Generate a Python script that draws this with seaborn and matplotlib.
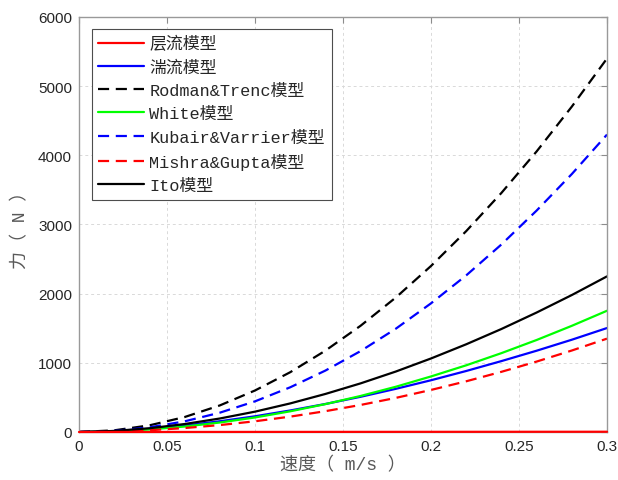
import matplotlib
matplotlib.use("Agg")
import matplotlib.pyplot as plt
import seaborn as sns
import pandas as pd

speed = [0.00, 0.02, 0.04, 0.06, 0.08, 0.10, 0.12, 0.14, 0.16, 0.18, 0.20, 0.22, 0.24, 0.26, 0.28, 0.30]
laminar = [0, 0.3, 0.5, 0.8, 1.0, 1.3, 1.5, 1.8, 2.0, 2.3, 2.5, 2.8, 3.0, 3.3, 3.5, 3.8]
turbulent = [0, 14, 47, 94, 155, 227, 311, 405, 509, 624, 748, 882, 1025, 1175, 1334, 1503]
rodman = [0, 24, 96, 216, 384, 600, 864, 1176, 1536, 1944, 2400, 2904, 3456, 4056, 4704, 5400]
white = [0, 9, 36, 79, 137, 210, 299, 403, 521, 654, 803, 964, 1140, 1330, 1535, 1753]
kubair = [0, 16, 67, 154, 279, 443, 646, 888, 1170, 1493, 1860, 2264, 2711, 3201, 3729, 4300]
mishra = [0, 6, 25, 57, 100, 155, 222, 301, 391, 493, 608, 733, 870, 1018, 1178, 1350]
ito = [0, 15, 54, 115, 195, 294, 413, 550, 703, 874, 1063, 1268, 1489, 1727, 1980, 2250]

labels = ["层流模型", "湍流模型", "Rodman&Trenc模型", "White模型",
          "Kubair&Varrier模型", "Mishra&Gupta模型", "Ito模型"]
series = [laminar, turbulent, rodman, white, kubair, mishra, ito]
colors = ["#ff0000", "#0000ff", "#000000", "#00ff00", "#0000ff", "#ff0000", "#000000"]
styles = ["-", "-", (0, (5, 3)), "-", (0, (5, 3)), (0, (5, 3)), "-"]

sns.set_style("white")
plt.rcParams["font.family"] = ["Liberation Sans", "Noto Sans CJK SC"]
mixfam = ["Liberation Mono", "Noto Sans CJK SC"]

fig = plt.figure(figsize=(6.18, 4.81), dpi=100)
ax = fig.add_axes([0.1278, 0.0998, 0.8544, 0.8628])

for lab, vals, col, ls in zip(labels, series, colors, styles):
    df = pd.DataFrame({"v": speed, "F": vals})
    is_lam = lab == "层流模型"
    sns.lineplot(data=df, x="v", y="F", color=col, linestyle=ls, linewidth=1.6,
                 label=lab, ax=ax, clip_on=not is_lam, zorder=3 if is_lam else 2)

ax.set_xlim(0, 0.3)
ax.set_ylim(0, 6000)
ax.set_xticks([0, 0.05, 0.1, 0.15, 0.2, 0.25, 0.3])
ax.set_xticklabels(["0", "0.05", "0.1", "0.15", "0.2", "0.25", "0.3"])
ax.set_yticks([0, 1000, 2000, 3000, 4000, 5000, 6000])
ax.tick_params(direction="in", top=True, right=True, length=4, width=0.8,
               labelsize=11, colors="0.55", labelcolor="0.15", pad=5)
ax.grid(True, linestyle=(0, (3, 3)), color="0.85", linewidth=0.7)
for sp in ax.spines.values():
    sp.set_color("0.6")
    sp.set_linewidth(1.0)

ax.set_xlabel("速度（ m/s ）", fontsize=13, color="0.35", family=mixfam, labelpad=2)
ax.set_ylabel("力（ N ）", fontsize=13, color="0.35", family=mixfam, labelpad=6)

leg = ax.legend(loc="upper left", bbox_to_anchor=(0.024, 0.972),
                prop={"family": mixfam, "size": 12.2}, frameon=True, fancybox=False,
                edgecolor="0.3", framealpha=1, handlelength=2.7, handletextpad=0.3,
                labelspacing=0.48, borderpad=0.4, borderaxespad=0)
leg.get_frame().set_linewidth(0.8)
for t in leg.get_texts():
    t.set_color("0.15")

fig.savefig("out.png", dpi=100)
